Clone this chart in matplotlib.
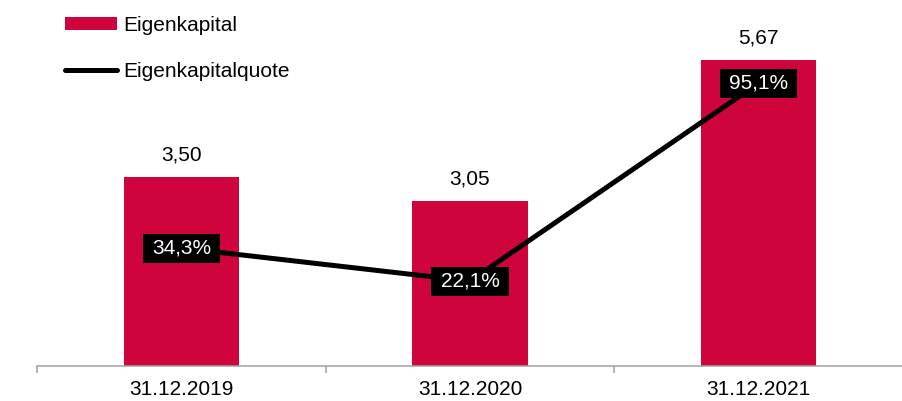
import matplotlib as mpl
import matplotlib.pyplot as plt
from matplotlib.lines import Line2D
from matplotlib.patches import Patch
from matplotlib.path import Path

categories = ["31.12.2019", "31.12.2020", "31.12.2021"]
equity = [3.50, 3.05, 5.67]
equity_ratio = [34.3, 22.1, 95.1]

RED = "#D0043C"
AXIS = "#A0A0A0"

mpl.rcParams.update({
    "font.family": ["Liberation Sans", "DejaVu Sans"],
    "font.size": 15,
})


def fmt_de(value: float, digits: int) -> str:
    return f"{value:.{digits}f}".replace(".", ",")


def label_box(x0, y0, width, height, mutation_size):
    # square box, wider padding left/right than top/bottom
    padx = 0.44 * mutation_size
    pady = 0.24 * mutation_size
    x0, y0 = x0 - padx, y0 - pady
    x1, y1 = x0 + width + 2 * padx, y0 + height + 2 * pady
    return Path([(x0, y0), (x1, y0), (x1, y1), (x0, y1), (x0, y0)], closed=True)


fig = plt.figure(figsize=(9.03, 4.01), dpi=100)
ax = fig.add_axes([37 / 903, 1 - 366 / 401, 866 / 903, 351 / 401])
x = list(range(len(categories)))

ax.bar(x, equity, width=0.4, color=RED, zorder=2)
for xi, val in zip(x, equity):
    ax.annotate(fmt_de(val, 2), (xi, val), xytext=(0, 9), textcoords="offset points",
                ha="center", va="bottom", fontsize=15)

ax.set_xlim(-0.5, 2.466)
ax.set_ylim(0, 6.5)
ax.set_xticks(x)
ax.set_xticklabels(categories)
ax.set_xticks([-0.5, 0.5, 1.5, 2.5], minor=True)
ax.tick_params(axis="x", which="major", length=0, pad=10)
ax.tick_params(axis="x", which="minor", length=5, color=AXIS, width=1.1)
ax.set_yticks([])
for side in ("top", "right", "left"):
    ax.spines[side].set_visible(False)
ax.spines["bottom"].set_color(AXIS)
ax.spines["bottom"].set_linewidth(1.1)

ax2 = ax.twinx()
ax2.plot(x, equity_ratio, color="black", linewidth=3.6, solid_capstyle="round", zorder=3)
for xi, val in zip(x, equity_ratio):
    ax2.text(xi, val, fmt_de(val, 1) + "%", ha="center", va="center", color="white",
             fontsize=15, zorder=4,
             bbox=dict(boxstyle=label_box, facecolor="black", edgecolor="none"))
ax2.set_ylim(-9.2, 120.2)
ax2.axis("off")

handles = [
    Patch(facecolor=RED, edgecolor="none", label="Eigenkapital"),
    Line2D([0], [0], color="black", linewidth=3.6, solid_capstyle="round", label="Eigenkapitalquote"),
]
fig.legend(handles=handles, loc="upper left", bbox_to_anchor=(65 / 903, 1 - 16 / 401),
           frameon=False, borderpad=0, borderaxespad=0, handlelength=2.5, handleheight=0.55,
           handletextpad=0.29, labelspacing=1.3, fontsize=15)

fig.savefig("out.png", dpi=100, facecolor="white")
